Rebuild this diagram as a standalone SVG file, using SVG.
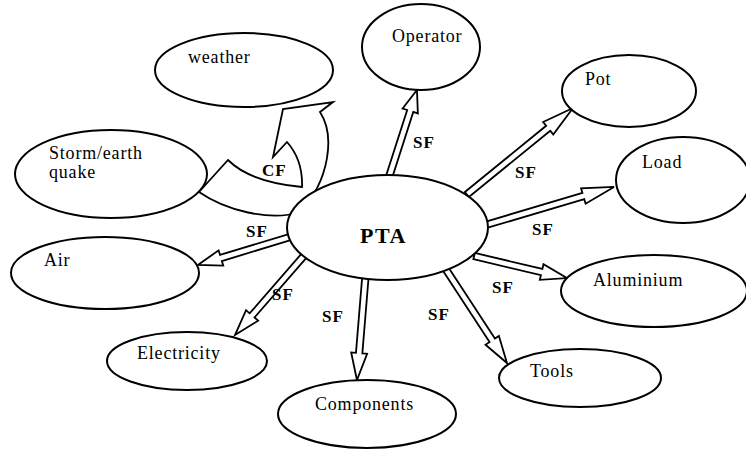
<svg xmlns="http://www.w3.org/2000/svg" width="746" height="450" viewBox="0 0 746 450">
  <style>
    .node { fill: #ffffff; stroke: #000000; stroke-width: 2; }
    .lbl { font-family: "Liberation Serif", "Times New Roman", serif; font-size: 18px; letter-spacing: 0.8px; fill: #000000; }
    .hub { font-family: "Liberation Serif", "Times New Roman", serif; font-size: 22px; font-weight: bold; letter-spacing: 1.5px; fill: #000000; }
    .flow { font-family: "Liberation Serif", "Times New Roman", serif; font-size: 17px; font-weight: bold; letter-spacing: 1px; fill: #000000; }
    .arrow { fill: #ffffff; stroke: #000000; stroke-width: 1.8; stroke-linejoin: miter; }
  </style>
  <rect width="746" height="450" fill="#ffffff"/>

  <!-- connectors: hollow block arrows, drawn under the node ellipses -->
  <g id="connectors">
    <g transform="translate(390,174) rotate(-72.2)"><path class="arrow" d="M-4,-3.2 H66.2 V-8 L88.2,0 L66.2,8 V3.2 H-4 Z"/></g>
    <g transform="translate(470,192) rotate(-39.2)"><path class="arrow" d="M-4,-3.2 H100.9 V-8 L132.9,0 L100.9,8 V3.2 H-4 Z"/></g>
    <g transform="translate(489,224) rotate(-16.5)"><path class="arrow" d="M-4,-3.2 H98.4 V-8 L130.4,0 L98.4,8 V3.2 H-4 Z"/></g>
    <g transform="translate(478,257) rotate(13.3)"><path class="arrow" d="M-4,-3.2 H65.4 V-8 L91.4,0 L65.4,8 V3.2 H-4 Z"/></g>
    <g transform="translate(447,271) rotate(56.9)"><path class="arrow" d="M-4,-3.2 H82.8 V-8 L109.8,0 L82.8,8 V3.2 H-4 Z"/></g>
    <g transform="translate(365,282) rotate(94.7)"><path class="arrow" d="M-4,-3.2 H71.3 V-8 L98.3,0 L71.3,8 V3.2 H-4 Z"/></g>
    <g transform="translate(302,258) rotate(131)"><path class="arrow" d="M-4,-3.2 H76.1 V-8 L102.1,0 L76.1,8 V3.2 H-4 Z"/></g>
    <g transform="translate(290,237) rotate(163.1)"><path class="arrow" d="M-4,-3.2 H72.2 V-8 L96.2,0 L72.2,8 V3.2 H-4 Z"/></g>
    <!-- curved CF arrow from storm side up towards weather -->
    <path class="arrow" stroke-width="2" d="M199,192 L228,160 Q250,182 302,187 Q303,160 287,142 L273,157 L283,109 L333,102 L320,112 C335,135 330,180 300,212 C270,222 225,210 199,192 Z"/>
    <text class="flow" x="413" y="148">SF</text>
    <text class="flow" x="515" y="178">SF</text>
    <text class="flow" x="532" y="235">SF</text>
    <text class="flow" x="492" y="293">SF</text>
    <text class="flow" x="428" y="320">SF</text>
    <text class="flow" x="322" y="322">SF</text>
    <text class="flow" x="272" y="300">SF</text>
    <text class="flow" x="246" y="237">SF</text>
    <text class="flow" x="262" y="176">CF</text>
  </g>

  <g id="pta">
    <ellipse class="node" cx="387.5" cy="227.5" rx="100.5" ry="52.5"/>
    <text class="hub" x="360" y="243">PTA</text>
  </g>
  <g id="weather">
    <ellipse class="node" cx="244" cy="70" rx="89" ry="37"/>
    <text class="lbl" x="188" y="63">weather</text>
  </g>
  <g id="operator">
    <ellipse class="node" cx="421" cy="47" rx="59" ry="43"/>
    <text class="lbl" x="392" y="42">Operator</text>
  </g>
  <g id="pot">
    <ellipse class="node" cx="629" cy="91" rx="67" ry="36"/>
    <text class="lbl" x="585" y="85">Pot</text>
  </g>
  <g id="load">
    <ellipse class="node" cx="683" cy="180" rx="67" ry="43"/>
    <text class="lbl" x="642" y="168">Load</text>
  </g>
  <g id="aluminium">
    <ellipse class="node" cx="654" cy="291" rx="93" ry="36"/>
    <text class="lbl" x="593" y="286">Aluminium</text>
  </g>
  <g id="tools">
    <ellipse class="node" cx="580" cy="378" rx="81" ry="29"/>
    <text class="lbl" x="530" y="377">Tools</text>
  </g>
  <g id="components">
    <ellipse class="node" cx="367" cy="414" rx="89" ry="34"/>
    <text class="lbl" x="315" y="410">Components</text>
  </g>
  <g id="electricity">
    <ellipse class="node" cx="187" cy="361" rx="80" ry="29"/>
    <text class="lbl" x="137" y="359">Electricity</text>
  </g>
  <g id="air">
    <ellipse class="node" cx="105" cy="273" rx="94" ry="36"/>
    <text class="lbl" x="44" y="266">Air</text>
  </g>
  <g id="storm">
    <ellipse class="node" cx="111" cy="174" rx="96" ry="44"/>
    <text class="lbl" x="49" y="159">Storm/earth</text>
    <text class="lbl" x="49" y="178">quake</text>
  </g>
</svg>
